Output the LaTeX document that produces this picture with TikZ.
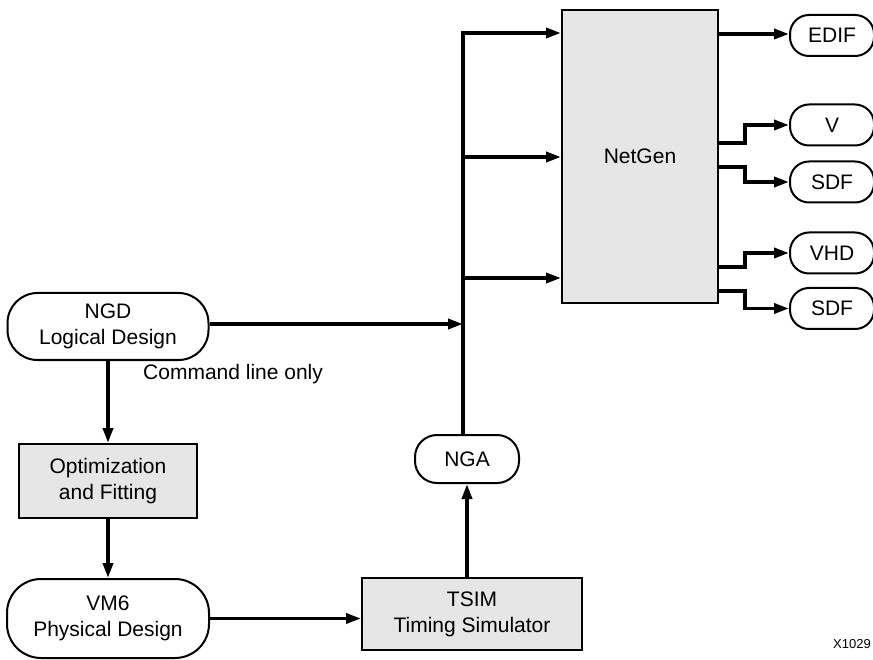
\documentclass[tikz,border=0pt]{standalone}
\usepackage{fontspec}
\setmainfont{Liberation Sans}
\usetikzlibrary{arrows.meta}
\definecolor{boxgray}{HTML}{E6E6E6}
\tikzset{
  every node/.style={font=\fontsize{21}{26}\selectfont, align=center, inner sep=0pt},
  procbox/.style={draw=black, line width=2pt, fill=boxgray},
  filenode/.style={draw=black, line width=2pt, fill=white, rounded corners=30pt},
  outnode/.style={draw=black, line width=2pt, fill=white, rounded corners=19pt, minimum width=84pt, minimum height=41pt},
  arr/.style={line width=3.5pt, -{Triangle[length=15pt,width=10pt]}},
  wire/.style={line width=3.5pt}
}
\begin{document}
\begin{tikzpicture}[x=1pt,y=-1pt]
\useasboundingbox (0,0) rectangle (873,660);
% main nodes
\node[procbox, minimum width=156pt, minimum height=293pt] (NetGen) at (640,156.5) {NetGen};
\node[filenode, minimum width=201pt, minimum height=67pt] (NGD) at (108,326.5) {NGD\\Logical Design};
\node[procbox, minimum width=178pt, minimum height=74pt] (Opt) at (108,481) {Optimization\\and Fitting};
\node[filenode, minimum width=202pt, minimum height=79pt, rounded corners=34pt] (VM6) at (108,618.5) {VM6\\Physical Design};
\node[procbox, minimum width=220pt, minimum height=72pt] (TSIM) at (472,614) {TSIM\\Timing Simulator};
\node[filenode, minimum width=104pt, minimum height=48pt, rounded corners=22pt] (NGA) at (467,459) {NGA};
% outputs
\node[outnode] (EDIF) at (832,35.5) {EDIF};
\node[outnode] (V) at (832,125) {V};
\node[outnode] (SDFa) at (832,182) {SDF};
\node[outnode] (VHD) at (832,253) {VHD};
\node[outnode] (SDFb) at (832,308.5) {SDF};
% labels
\node[anchor=west] (cmd) at (143,374) {Command line only};
\node[anchor=east, font=\fontsize{13}{15}\selectfont] (xref) at (871,644) {X1029};
% bus coordinates
\coordinate (b1) at (463,33);
\coordinate (b2) at (463,157);
\coordinate (b3) at (463,278);
\coordinate (bn) at (463,324);
% connectors
\draw[arr] (NGD.south) -- (Opt.north);
\draw[arr] (Opt.south) -- (VM6.north);
\draw[arr] (VM6.east) -- (VM6.east -| TSIM.west);
\draw[arr] (NGA.south |- TSIM.north) -- (NGA.south);
\draw[arr, line join=miter] (NGA.north -| b1) -- (b1) -- (NetGen.west |- b1);
\draw[arr] (b2) -- (NetGen.west |- b2);
\draw[arr] (b3) -- (NetGen.west |- b3);
\draw[arr] (NGD.east |- bn) -- (bn);
% outputs connectors
\coordinate (o1) at (718,34);
\coordinate (o2) at (718,143);
\coordinate (o3) at (718,167);
\coordinate (o4) at (718,267);
\coordinate (o5) at (718,291);
\draw[arr] (NetGen.east |- o1) -- (EDIF.west |- o1);
\draw[arr, line join=miter] (NetGen.east |- o2) -- ++(26,0) |- (V.west);
\draw[arr, line join=miter] (NetGen.east |- o3) -- ++(26,0) |- (SDFa.west);
\draw[arr, line join=miter] (NetGen.east |- o4) -- ++(26,0) |- (VHD.west);
\draw[arr, line join=miter] (NetGen.east |- o5) -- ++(26,0) |- (SDFb.west);
\end{tikzpicture}
\end{document}
